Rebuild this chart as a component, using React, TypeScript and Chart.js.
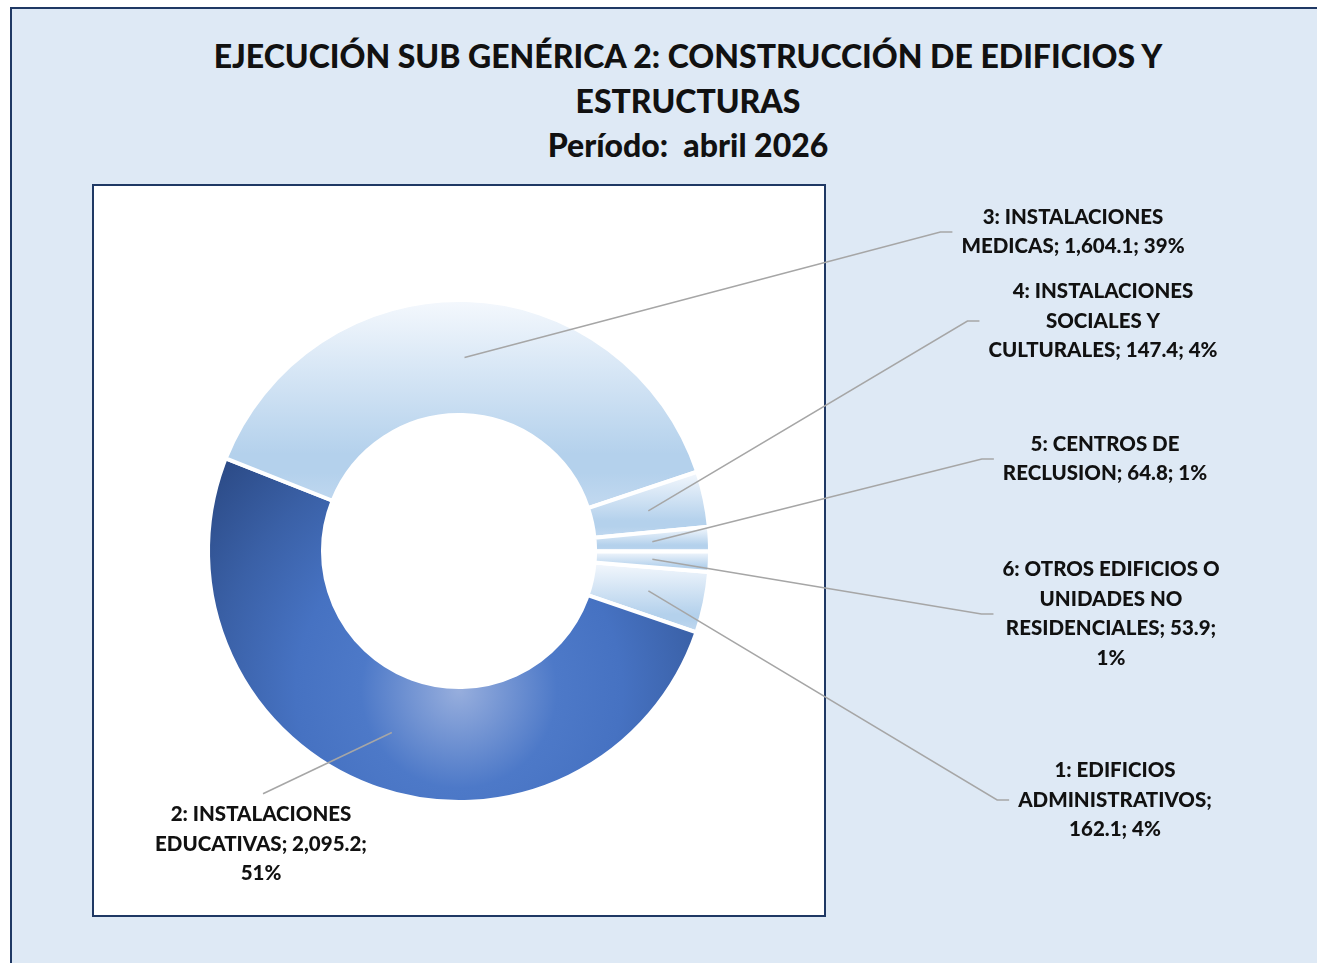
import React, { useEffect, useRef } from 'react';
import { Chart, registerables } from 'chart.js';

Chart.register(...registerables);

// ---------- DATA ----------
const categories: string[] = [
  '1: EDIFICIOS ADMINISTRATIVOS',
  '2: INSTALACIONES EDUCATIVAS',
  '3: INSTALACIONES MEDICAS',
  '4: INSTALACIONES SOCIALES Y CULTURALES',
  '5: CENTROS DE RECLUSION',
  '6: OTROS EDIFICIOS O UNIDADES NO RESIDENCIALES',
];
const values: number[] = [162.1, 2095.2, 1604.1, 147.4, 64.8, 53.9];
const percentLabels: number[] = [4, 51, 39, 4, 1, 1];
const titleLines: string[] = [
  'EJECUCIÓN SUB GENÉRICA 2: CONSTRUCCIÓN DE EDIFICIOS Y',
  'ESTRUCTURAS',
  'Período:  abril 2026',
];

// ---------- LAYOUT / STYLE ----------
const W = 1317;
const H = 963;
const ROTATION = 94.8;
const BORDER_W = 4;
const CUTOUT = 0.542;
const FONT = 'Lato, "Open Sans", sans-serif';
const FONT_WEIGHT = 900;
const LABEL_SIZE = 20.5;
const LABEL_LINE_H = 29.5;
const WRAP_EM = 11.4;
const TEXT_COLOR = '#111111';
const LEADER_COLOR = '#a6a6a6';

type LabelPos = { cx: number; cy: number; side: 'right' | 'top' };
const labelLayout: LabelPos[] = [
  { cx: 1115, cy: 800, side: 'right' },
  { cx: 261, cy: 844, side: 'top' },
  { cx: 1073, cy: 232, side: 'right' },
  { cx: 1103, cy: 321, side: 'right' },
  { cx: 1105, cy: 459, side: 'right' },
  { cx: 1111, cy: 614, side: 'right' },
];

const fmt = (v: number) =>
  v.toLocaleString('en-US', { minimumFractionDigits: 1, maximumFractionDigits: 1 });

function wrap(ctx: CanvasRenderingContext2D, text: string, maxWidth: number): string[] {
  const words = text.split(' ');
  const lines: string[] = [];
  let cur = '';
  for (const w of words) {
    const test = cur ? cur + ' ' + w : w;
    if (cur && ctx.measureText(test).width > maxWidth) {
      lines.push(cur);
      cur = w;
    } else {
      cur = test;
    }
  }
  if (cur) lines.push(cur);
  return lines;
}

function sliceFill(context: any) {
  const chart = context.chart;
  const i = context.dataIndex;
  const ca = chart.chartArea;
  if (!ca || i === undefined) return '#b4d1ec';
  const cx = (ca.left + ca.right) / 2;
  const cy = (ca.top + ca.bottom) / 2;
  const R = (Math.min(ca.right - ca.left, ca.bottom - ca.top) - BORDER_W) / 2;
  const ctx: CanvasRenderingContext2D = chart.ctx;
  if (i === 1) {
    const gy = cy + R * 0.555;
    const g = ctx.createRadialGradient(cx, gy, 0, cx, gy, R * 1.3);
    g.addColorStop(0, '#97aedd');
    g.addColorStop(0.3, '#4d79c8');
    g.addColorStop(0.5, '#4672c2');
    g.addColorStop(0.75, '#3a60a6');
    g.addColorStop(1, '#2c4b87');
    return g;
  }
  const total = values.reduce((a, b) => a + b, 0);
  let a = ((ROTATION - 90) * Math.PI) / 180;
  for (let j = 0; j < i; j++) a += (values[j] / total) * Math.PI * 2;
  const e = a + (values[i] / total) * Math.PI * 2;
  const r = R * CUTOUT;
  let minY = Infinity;
  let maxY = -Infinity;
  for (let k = 0; k <= 48; k++) {
    const t = a + ((e - a) * k) / 48;
    for (const rad of [r, R]) {
      const y = cy + Math.sin(t) * rad;
      if (y < minY) minY = y;
      if (y > maxY) maxY = y;
    }
  }
  const g = ctx.createLinearGradient(0, minY, 0, maxY);
  g.addColorStop(0, '#f4f8fd');
  g.addColorStop(0.74, '#b4d1ec');
  g.addColorStop(0.83, '#b4d1ec');
  g.addColorStop(1, '#c2d9f0');
  return g;
}

const leaderLabels = {
  id: 'leaderLabels',
  afterDatasetsDraw(chart: any) {
    const ctx: CanvasRenderingContext2D = chart.ctx;
    const meta = chart.getDatasetMeta(0);
    ctx.save();
    ctx.font = `${FONT_WEIGHT} ${LABEL_SIZE}px ${FONT}`;
    meta.data.forEach((arc: any, i: number) => {
      const L = labelLayout[i];
      const p = arc.getProps(['x', 'y', 'startAngle', 'endAngle', 'innerRadius', 'outerRadius'], true);
      const mid = (p.startAngle + p.endAngle) / 2;
      const rr = (p.innerRadius + p.outerRadius) / 2;
      const ax = p.x + Math.cos(mid) * rr;
      const ay = p.y + Math.sin(mid) * rr;
      const text = `${categories[i]}; ${fmt(values[i])}; ${percentLabels[i]}%`;
      const lines = wrap(ctx, text, WRAP_EM * LABEL_SIZE);
      const w = Math.max(...lines.map((l) => ctx.measureText(l).width));
      const h = lines.length * LABEL_LINE_H;
      const top = L.cy - h / 2;
      ctx.strokeStyle = LEADER_COLOR;
      ctx.lineWidth = 1.5;
      ctx.beginPath();
      ctx.moveTo(ax, ay);
      if (L.side === 'right') {
        const left = L.cx - w / 2;
        ctx.lineTo(left - 21, L.cy);
        ctx.lineTo(left - 9, L.cy);
      } else {
        ctx.lineTo(L.cx + 2, top - 6);
      }
      ctx.stroke();
      ctx.fillStyle = TEXT_COLOR;
      ctx.textAlign = 'center';
      ctx.textBaseline = 'middle';
      lines.forEach((ln, k) => ctx.fillText(ln, L.cx, top + LABEL_LINE_H * (k + 0.5)));
    });
    ctx.restore();
  },
};

export default function App() {
  const canvasRef = useRef<HTMLCanvasElement | null>(null);

  useEffect(() => {
    if (!canvasRef.current) return;
    const chart = new Chart(canvasRef.current, {
      type: 'doughnut',
      data: {
        labels: categories,
        datasets: [
          {
            data: values,
            backgroundColor: sliceFill as any,
            borderColor: '#ffffff',
            borderWidth: BORDER_W,
          },
        ],
      },
      options: {
        responsive: false,
        animation: false,
        rotation: ROTATION,
        cutout: `${CUTOUT * 100}%`,
        layout: { padding: { left: 206, right: 605, top: 298, bottom: 159 } },
        plugins: {
          legend: { display: false },
          title: { display: false },
          tooltip: { enabled: false },
        },
        events: [],
      },
      plugins: [leaderLabels],
    });
    return () => chart.destroy();
  }, []);

  return (
    <div
      style={{
        position: 'fixed',
        left: 0,
        top: 0,
        width: W,
        height: H,
        overflow: 'hidden',
        background: '#ffffff',
      }}
    >
      <div
        style={{
          position: 'absolute',
          left: 10,
          top: 7,
          width: 1400,
          height: 1100,
          border: '2px solid #1f3864',
          background: '#dee9f5',
        }}
      />
      <div
        style={{
          position: 'absolute',
          left: 92,
          top: 184,
          width: 730,
          height: 729,
          border: '2px solid #1f3864',
          background: '#ffffff',
        }}
      />
      <div
        style={{
          position: 'absolute',
          left: 188,
          top: 34,
          width: 1000,
          textAlign: 'center',
          fontFamily: FONT,
          fontWeight: FONT_WEIGHT,
          fontSize: 32,
          lineHeight: '44.5px',
          color: TEXT_COLOR,
          whiteSpace: 'pre',
        }}
      >
        {titleLines.map((t, i) => (
          <div key={i}>{t}</div>
        ))}
      </div>
      <canvas
        ref={canvasRef}
        width={W}
        height={H}
        style={{ position: 'absolute', left: 0, top: 0, width: W, height: H }}
      />
    </div>
  );
}
